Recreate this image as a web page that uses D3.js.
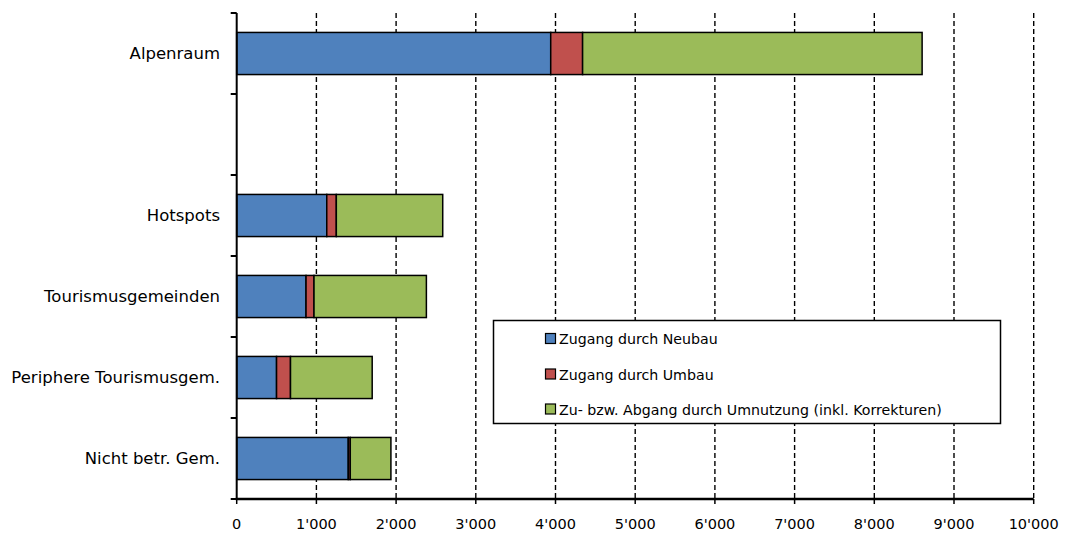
<!DOCTYPE html>
<html><head><meta charset="utf-8">
<script src="https://cdn.jsdelivr.net/npm/d3@7"></script>
<style>body{margin:0;background:#fff}svg{display:block}text{font-family:"DejaVu Sans",Verdana,sans-serif;fill:#000}</style>
</head><body><svg id="c" width="1066" height="533"></svg>
<script>
const categories = ["Alpenraum", "", "Hotspots", "Tourismusgemeinden", "Periphere Tourismusgem.", "Nicht betr. Gem."];
const seriesNames = ["Zugang durch Neubau", "Zugang durch Umbau", "Zu- bzw. Abgang durch Umnutzung (inkl. Korrekturen)"];
const neubau = [3940, 0, 1130, 870, 500, 1400];
const umbau = [400, 0, 120, 100, 175, 25];
const umnutzung = [4260, 0, 1335, 1410, 1025, 510];
const colors = ["#4F81BD", "#C0504D", "#9BBB59"];
const xTicks = [0,1000,2000,3000,4000,5000,6000,7000,8000,9000,10000];
const xTickLabels = ["0","1'000","2'000","3'000","4'000","5'000","6'000","7'000","8'000","9'000","10'000"];

const svg = d3.select("#c");
const m = {l:236.7, r:1033.7, t:13, b:499};
const x = d3.scaleLinear().domain([0,10000]).range([m.l, m.r]);
const y = d3.scaleBand().domain(categories.map((c,i)=>i)).range([m.t, m.b]).paddingInner(0.48).paddingOuter(0.24);

// gridlines
svg.append("g").selectAll("line").data(xTicks.slice(1)).join("line")
  .attr("x1", d=>x(d)).attr("x2", d=>x(d)).attr("y1", m.t).attr("y2", m.b)
  .attr("stroke", "#000").attr("stroke-width", 1.4).attr("stroke-dasharray", "5,3");

// stacked bars
const table = categories.map((c,i)=>({i, s0:neubau[i], s1:umbau[i], s2:umnutzung[i]}));
const stack = d3.stack().keys(["s0","s1","s2"])(table);
svg.append("g").selectAll("g").data(stack).join("g").attr("fill", (d,k)=>colors[k])
  .selectAll("rect").data(d=>d.filter(p=>p.data.s0+p.data.s1+p.data.s2>0)).join("rect")
  .attr("x", d=>x(d[0])).attr("width", d=>x(d[1])-x(d[0]))
  .attr("y", d=>y(d.data.i)).attr("height", y.bandwidth())
  .attr("stroke", "#000").attr("stroke-width", 1.5);

// y axis
const yBounds = d3.range(categories.length+1).map(i=>m.t + i*(m.b-m.t)/categories.length);
svg.append("line").attr("x1", m.l).attr("x2", m.l).attr("y1", m.t).attr("y2", m.b).attr("stroke","#000").attr("stroke-width",2);
svg.append("g").selectAll("line").data(yBounds).join("line")
  .attr("x1", m.l-6).attr("x2", m.l).attr("y1", d=>d).attr("y2", d=>d).attr("stroke","#000").attr("stroke-width",2);
svg.append("g").selectAll("text").data(categories).join("text")
  .attr("x", 220).attr("y", (d,i)=>y(i)+y.bandwidth()/2).attr("dy","0.36em")
  .attr("text-anchor","end").attr("font-size", 16.5).text(d=>d);

// x axis
svg.append("line").attr("x1", m.l-1).attr("x2", m.r).attr("y1", m.b).attr("y2", m.b).attr("stroke","#000").attr("stroke-width",2.5);
svg.append("g").selectAll("line").data(xTicks).join("line")
  .attr("x1", d=>x(d)).attr("x2", d=>x(d)).attr("y1", m.b).attr("y2", m.b+5).attr("stroke","#000").attr("stroke-width",1.5);
svg.append("g").selectAll("text").data(xTicks).join("text")
  .attr("x", d=>x(d)).attr("y", 524).attr("dy","0.36em").attr("text-anchor","middle").attr("font-size",14.5)
  .text((d,i)=>xTickLabels[i]);

// legend
const lg = svg.append("g");
lg.append("rect").attr("x",493.5).attr("y",320.5).attr("width",507).attr("height",103).attr("fill","#fff").attr("stroke","#000").attr("stroke-width",1.5);
const rows = [339, 374.5, 409.5];
seriesNames.forEach((n,k)=>{
  lg.append("rect").attr("x",545.5).attr("y",rows[k]-5.5).attr("width",10).attr("height",10).attr("fill",colors[k]).attr("stroke","#000").attr("stroke-width",1.2);
  lg.append("text").attr("x",559).attr("y",rows[k]).attr("dy","0.36em").attr("font-size",14.2).text(n);
});
</script></body></html>
